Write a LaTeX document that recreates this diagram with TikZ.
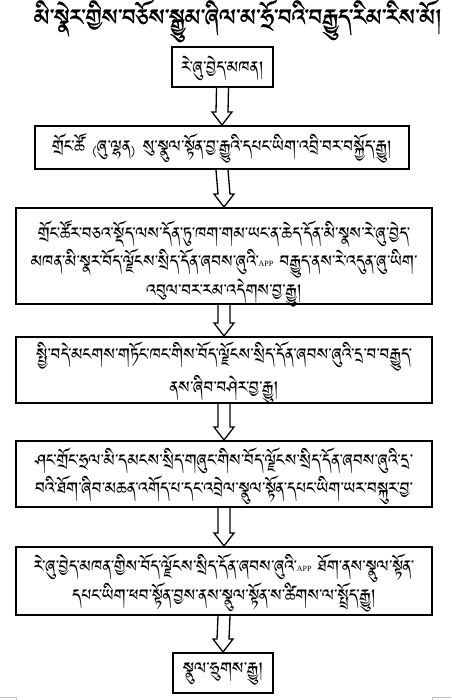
\documentclass[tikz,border=0pt]{standalone}
\usepackage{fontspec}
\usepackage{graphicx}
\setmainfont{Liberation Serif}
\usetikzlibrary{calc}
\IfFontExistsTF{Noto Sans Tibetan}{\newfontfamily\tib[Script=Tibetan]{Noto Sans Tibetan}\newfontfamily\tibb[Script=Tibetan,FakeBold=0.8]{Noto Sans Tibetan}}{%
\IfFontExistsTF{Jomolhari}{\newfontfamily\tib[Script=Tibetan]{Jomolhari}\newfontfamily\tibb[Script=Tibetan,FakeBold=0.8]{Jomolhari}}{%
\IfFontExistsTF{Tibetan Machine Uni}{\newfontfamily\tib[Script=Tibetan]{Tibetan Machine Uni}\newfontfamily\tibb[Script=Tibetan,FakeBold=0.8]{Tibetan Machine Uni}}{%
\newfontfamily\tib{DejaVu Sans}\newfontfamily\tibb{DejaVu Sans}}}}
\newfontfamily\cjk{Noto Sans CJK SC}
\newcommand\app{\raisebox{5pt}{\rmfamily\fontsize{8}{9}\selectfont APP}}
\newcommand\lp{{\cjk\fontsize{12}{12}\selectfont （}}
\newcommand\rp{{\cjk\fontsize{12}{12}\selectfont ）}}
\tikzset{
  flowbox/.style={draw, line width=2pt, inner sep=0pt},
  boxtext/.style={inner sep=0pt, align=center, font=\tib\fontsize{21}{28}\selectfont},
  hollow/.style={draw, line width=1.3pt, fill=white, line join=miter},
  cornermark/.style={draw=black!25, line width=0.8pt}
}
\newcommand\downarrowbox[2]{%
  \draw[hollow] ($(#1.south)+(-6,0)$) -- ($(#2.north)+(-6,-13)$) -- ($(#2.north)+(-10,-13)$)
    -- (#2.north) -- ($(#2.north)+(10,-13)$) -- ($(#2.north)+(6,-13)$) -- ($(#1.south)+(6,0)$);}
\begin{document}
\begin{tikzpicture}[x=1pt,y=-1pt]
\useasboundingbox (0,0) rectangle (451,700);
\fill[white] (0,0) rectangle (451,700);
\node[inner sep=0pt] (title) at (238,21) {\resizebox{408pt}{!}{\tibb\fontsize{25}{30}\selectfont མི་སྣེར་གྱིས་བཅོས་སྒྱུམ་ཞིལ་མ་ཧྲོ་བའི་བརྒྱུད་རིམ་རིས་མོ།}};
\node[flowbox, minimum width=101, minimum height=40] (b1) at (222.5,67) {};
\node[flowbox, minimum width=374, minimum height=43] (b2) at (222,147.5) {};
\node[flowbox, minimum width=416, minimum height=96] (b3) at (224,256) {};
\node[flowbox, minimum width=416, minimum height=66] (b4) at (224,370) {};
\node[flowbox, minimum width=416, minimum height=66] (b5) at (224,474) {};
\node[flowbox, minimum width=416, minimum height=68] (b6) at (224,581) {};
\node[flowbox, minimum width=100, minimum height=40] (b7) at (223,673) {};
\node[boxtext] (t1) at ($(b1.center)+(0,1)$) {རེ་ཞུ་བྱེད་མཁན།};
\node[boxtext] (t2) at ($(b2.center)+(0,1)$) {གྲོང་ཚོ\lp ཞུ་ལྷན\rp སུ་སྣུལ་སྟོན་བྱ་རྒྱུའི་དཔང་ཡིག་འབྲི་བར་བསྐྱོད་རྒྱུ།};
\node[boxtext] (t3) at ($(b3.center)+(0,8)$) {གྲོང་ཚོར་བཅའ་སྡོད་ལས་དོན་ཏུ་ཁག་གམ་ཡང་ན་ཆེད་དོན་མི་སྣས་རེ་ཞུ་བྱེད་\\
མཁན་མི་སྣར་བོད་ལྗོངས་སྲིད་དོན་ཞབས་ཞུའི་\app{} བརྒྱུད་ནས་རེ་འདུན་ཞུ་ཡིག་\\
འབུལ་བར་རམ་འདེགས་བྱ་རྒྱུ།};
\node[boxtext] (t4) at ($(b4.center)+(0,3)$) {སྤྱི་བདེ་མངགས་གཏོང་ཁང་གིས་བོད་ལྗོངས་སྲིད་དོན་ཞབས་ཞུའི་དྲ་བ་བརྒྱུད་\\[3pt]
ནས་ཞིབ་བཤེར་བྱ་རྒྱུ།};
\node[boxtext] (t5) at ($(b5.center)+(0,2)$) {ཤང་གྲོང་ཧྲལ་མི་དམངས་སྲིད་གཞུང་གིས་བོད་ལྗོངས་སྲིད་དོན་ཞབས་ཞུའི་དྲ་\\
བའི་ཐོག་ཞིབ་མཆན་འགོད་པ་དང་འབྲེལ་སྣུལ་སྟོན་དཔང་ཡིག་ཡར་བསྐུར་བྱ་};
\node[boxtext] (t6) at ($(b6.center)+(0,2)$) {རེ་ཞུ་བྱེད་མཁན་གྱིས་བོད་ལྗོངས་སྲིད་དོན་ཞབས་ཞུའི་\app{} ཐོག་ནས་སྣུལ་སྟོན་\\
དཔང་ཡིག་ཕབ་སྟོན་བྱས་ནས་སྣུལ་སྟོན་ས་ཚིགས་ལ་སྤྲོད་རྒྱུ།};
\node[boxtext] (t7) at ($(b7.center)+(0,1)$) {སྣུལ་ཧྲུགས་རྒྱུ།};
\downarrowbox{b1}{b2}
\downarrowbox{b2}{b3}
\downarrowbox{b3}{b4}
\downarrowbox{b4}{b5}
\downarrowbox{b5}{b6}
\downarrowbox{b6}{b7}
\draw[cornermark] (0,697) -- (16,697) -- (16,700);
\draw[cornermark] (451,697) -- (432,697) -- (432,700);
\end{tikzpicture}
\end{document}
